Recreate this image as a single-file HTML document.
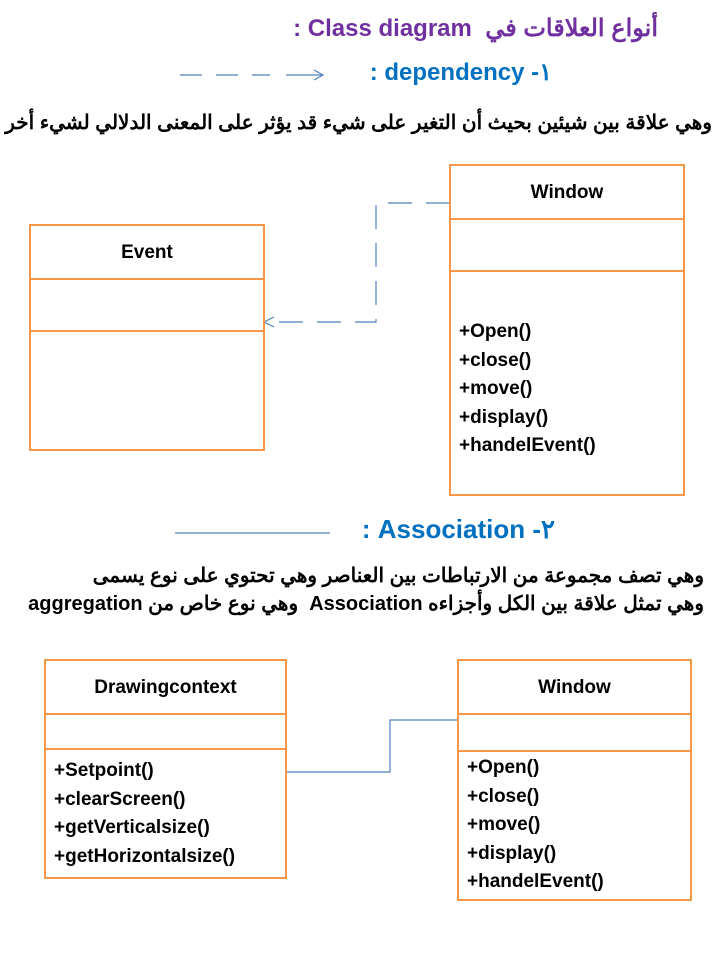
<!DOCTYPE html>
<html><head><meta charset="utf-8"><style>
body{margin:0;width:720px;height:960px;background:#fff;position:relative;overflow:hidden;font-family:"Liberation Sans","Noto Sans CJK SC",sans-serif}
.t{position:absolute;white-space:nowrap;font-weight:bold}
.box{position:absolute;border:2px solid #f79646;box-sizing:border-box;background:#fff}
.box .h{position:absolute;left:0;right:0;text-align:center;font-weight:bold;font-size:19px;color:#000}
.box .d{position:absolute;left:0;right:0;border-top:2px solid #f79646}
.box .m{position:absolute;left:8px;font-weight:bold;font-size:19px;line-height:28.5px}
</style></head><body>
<div class="t" style="right:62px;top:14px;font-size:24px;color:#7030a0;direction:rtl">أنواع العلاقات في &nbsp;Class diagram :</div>
<div class="t" style="right:168px;top:58px;font-size:24px;color:#0070c0;direction:rtl">١- dependency :</div>
<div class="t" style="right:8px;top:110px;font-size:20px;color:#000;direction:rtl">وهي علاقة بين شيئين بحيث أن التغير على شيء قد يؤثر على المعنى الدلالي لشيء أخر</div>
<div class="t" style="right:165px;top:514px;font-size:26px;color:#0070c0;direction:rtl">٢- Association :</div>
<div class="t" style="right:16px;top:563px;font-size:20px;color:#000;direction:rtl">وهي تصف مجموعة من الارتباطات بين العناصر وهي تحتوي على نوع يسمى</div>
<div class="t" style="right:16px;top:591px;font-size:20px;color:#000;direction:rtl">وهي تمثل علاقة بين الكل وأجزاءه Association &nbsp;وهي نوع خاص من aggregation</div>
<svg width="720" height="960" style="position:absolute;left:0;top:0">
<line x1="180" y1="75" x2="270" y2="75" stroke="#4f81bd" stroke-width="1.2" stroke-dasharray="22,14"/>
<line x1="286" y1="75" x2="322" y2="75" stroke="#4f81bd" stroke-width="1.2"/>
<path d="M314 70 L323 75 L314 80" fill="none" stroke="#4f81bd" stroke-width="1.2"/>
<line x1="175" y1="533" x2="330" y2="533" stroke="#4f81bd" stroke-width="1.3"/>
<path d="M450 203 H376 V322 H264" fill="none" stroke="#4f81bd" stroke-width="1.2" stroke-dasharray="24,14"/>
<path d="M274 317 L264 322 L274 327" fill="none" stroke="#4f81bd" stroke-width="1.2"/>
<path d="M286 772 H390 V720 H458" fill="none" stroke="#4f81bd" stroke-width="1.2"/>
</svg>
<div class="box" style="left:449px;top:164px;width:236px;height:332px">
<div class="h" style="top:16px">Window</div>
<div class="d" style="top:52px"></div><div class="d" style="top:104px"></div>
<div class="m" style="top:152px">+Open()<br>+close()<br>+move()<br>+display()<br>+handelEvent()</div>
</div>
<div class="box" style="left:29px;top:224px;width:236px;height:227px">
<div class="h" style="top:16px">Event</div>
<div class="d" style="top:52px"></div><div class="d" style="top:104px"></div>
</div>
<div class="box" style="left:44px;top:659px;width:243px;height:220px">
<div class="h" style="top:16px">Drawingcontext</div>
<div class="d" style="top:52px"></div><div class="d" style="top:87px"></div>
<div class="m" style="top:96px">+Setpoint()<br>+clearScreen()<br>+getVerticalsize()<br>+getHorizontalsize()</div>
</div>
<div class="box" style="left:457px;top:659px;width:235px;height:242px">
<div class="h" style="top:16px">Window</div>
<div class="d" style="top:52px"></div><div class="d" style="top:89px"></div>
<div class="m" style="top:93px">+Open()<br>+close()<br>+move()<br>+display()<br>+handelEvent()</div>
</div>
</body></html>
